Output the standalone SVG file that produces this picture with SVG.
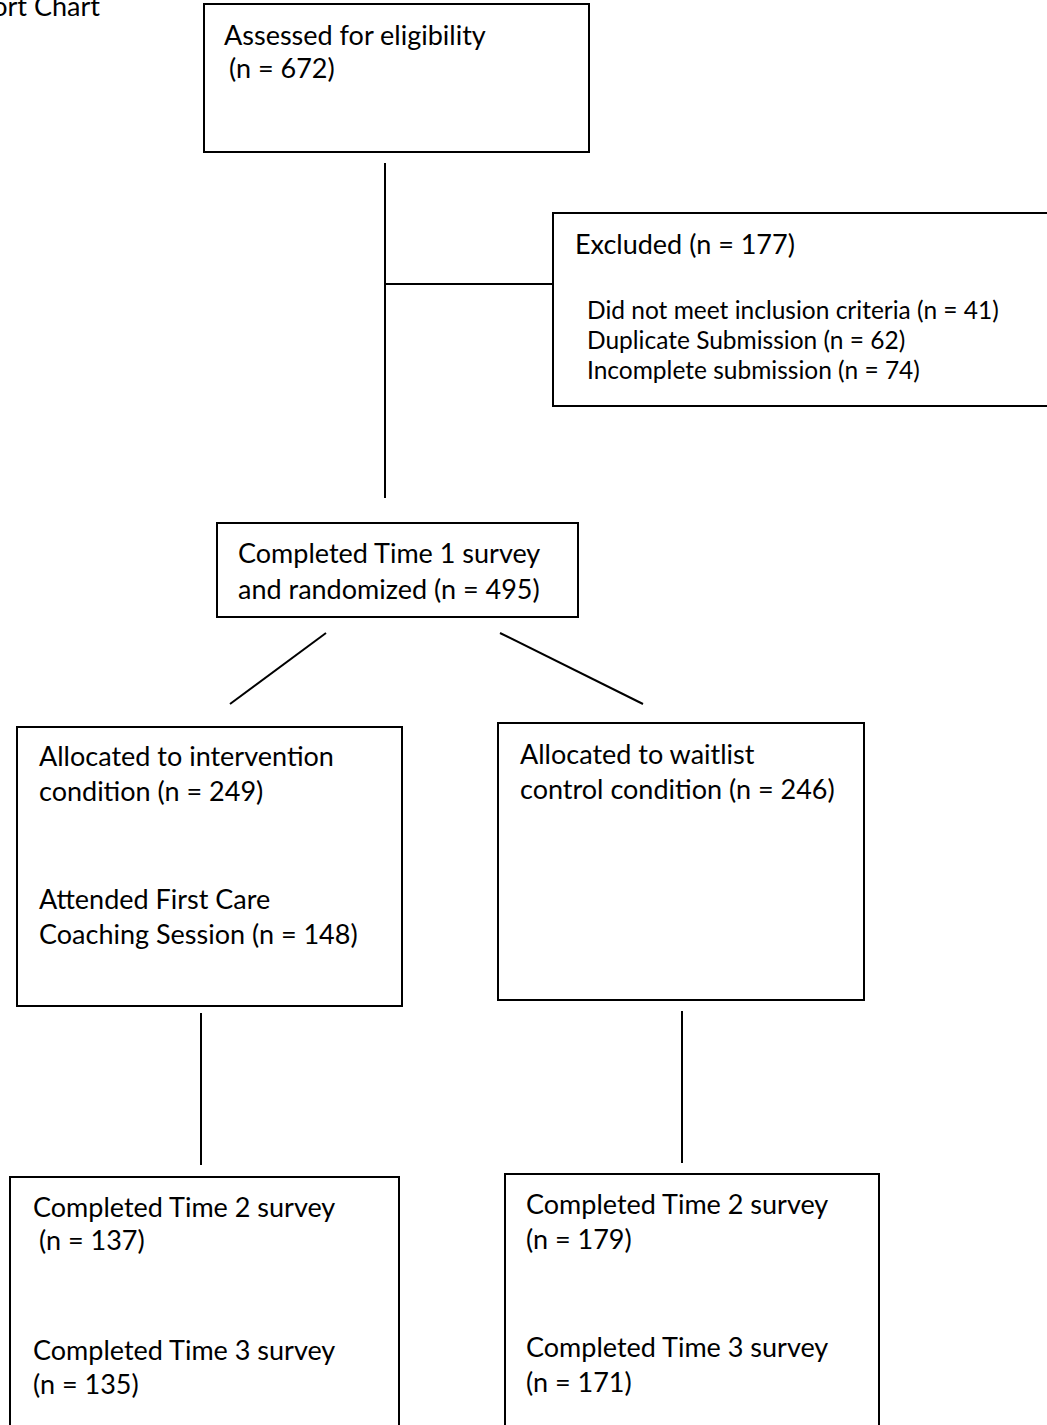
<svg xmlns="http://www.w3.org/2000/svg" width="1047" height="1425" viewBox="0 0 1047 1425">
<style>
.box{fill:#fff;stroke:#000;stroke-width:2}
.ln{stroke:#000;stroke-width:2;fill:none}
text{font-family:Lato,"Open Sans","Liberation Sans",sans-serif;font-size:27px;fill:#000}
.sm{font-size:24.5px}
</style>
<rect width="1047" height="1425" fill="#fff"/>
<text x="100" y="16" text-anchor="end">ort Chart</text>
<g id="connectors">
<line class="ln" x1="385" y1="163" x2="385" y2="498"/>
<line class="ln" x1="385" y1="284" x2="553" y2="284"/>
<line class="ln" x1="326" y1="633" x2="230" y2="704"/>
<line class="ln" x1="500" y1="633" x2="643" y2="704"/>
<line class="ln" x1="201" y1="1013" x2="201" y2="1165"/>
<line class="ln" x1="682" y1="1011" x2="682" y2="1163"/>
</g>
<g id="assessed">
<rect class="box" x="204" y="4" width="385" height="148"/>
<text x="224" y="45">Assessed for eligibility</text>
<text x="229" y="78">(n = 672)</text>
</g>
<g id="excluded">
<rect class="box" x="553" y="213" width="520" height="193"/>
<text x="575" y="254">Excluded (n = 177)</text>
<text class="sm" x="587" y="319">Did not meet inclusion criteria (n = 41)</text>
<text class="sm" x="587" y="349">Duplicate Submission (n = 62)</text>
<text class="sm" x="587" y="379">Incomplete submission (n = 74)</text>
</g>
<g id="randomized">
<rect class="box" x="217" y="523" width="361" height="94"/>
<text x="238" y="563">Completed Time 1 survey</text>
<text x="238" y="599">and randomized (n = 495)</text>
</g>
<g id="intervention">
<rect class="box" x="17" y="727" width="385" height="279"/>
<text x="39" y="766">Allocated to intervention</text>
<text x="39" y="801">condition (n = 249)</text>
<text x="39" y="909">Attended First Care</text>
<text x="39" y="944">Coaching Session (n = 148)</text>
</g>
<g id="waitlist">
<rect class="box" x="498" y="723" width="366" height="277"/>
<text x="520" y="764">Allocated to waitlist</text>
<text x="520" y="799">control condition (n = 246)</text>
</g>
<g id="followup-intervention">
<rect class="box" x="10" y="1177" width="389" height="260"/>
<text x="33" y="1217">Completed Time 2 survey</text>
<text x="39" y="1250">(n = 137)</text>
<text x="33" y="1360">Completed Time 3 survey</text>
<text x="33" y="1394">(n = 135)</text>
</g>
<g id="followup-waitlist">
<rect class="box" x="505" y="1174" width="374" height="260"/>
<text x="526" y="1214">Completed Time 2 survey</text>
<text x="526" y="1249">(n = 179)</text>
<text x="526" y="1357">Completed Time 3 survey</text>
<text x="526" y="1392">(n = 171)</text>
</g>
</svg>
